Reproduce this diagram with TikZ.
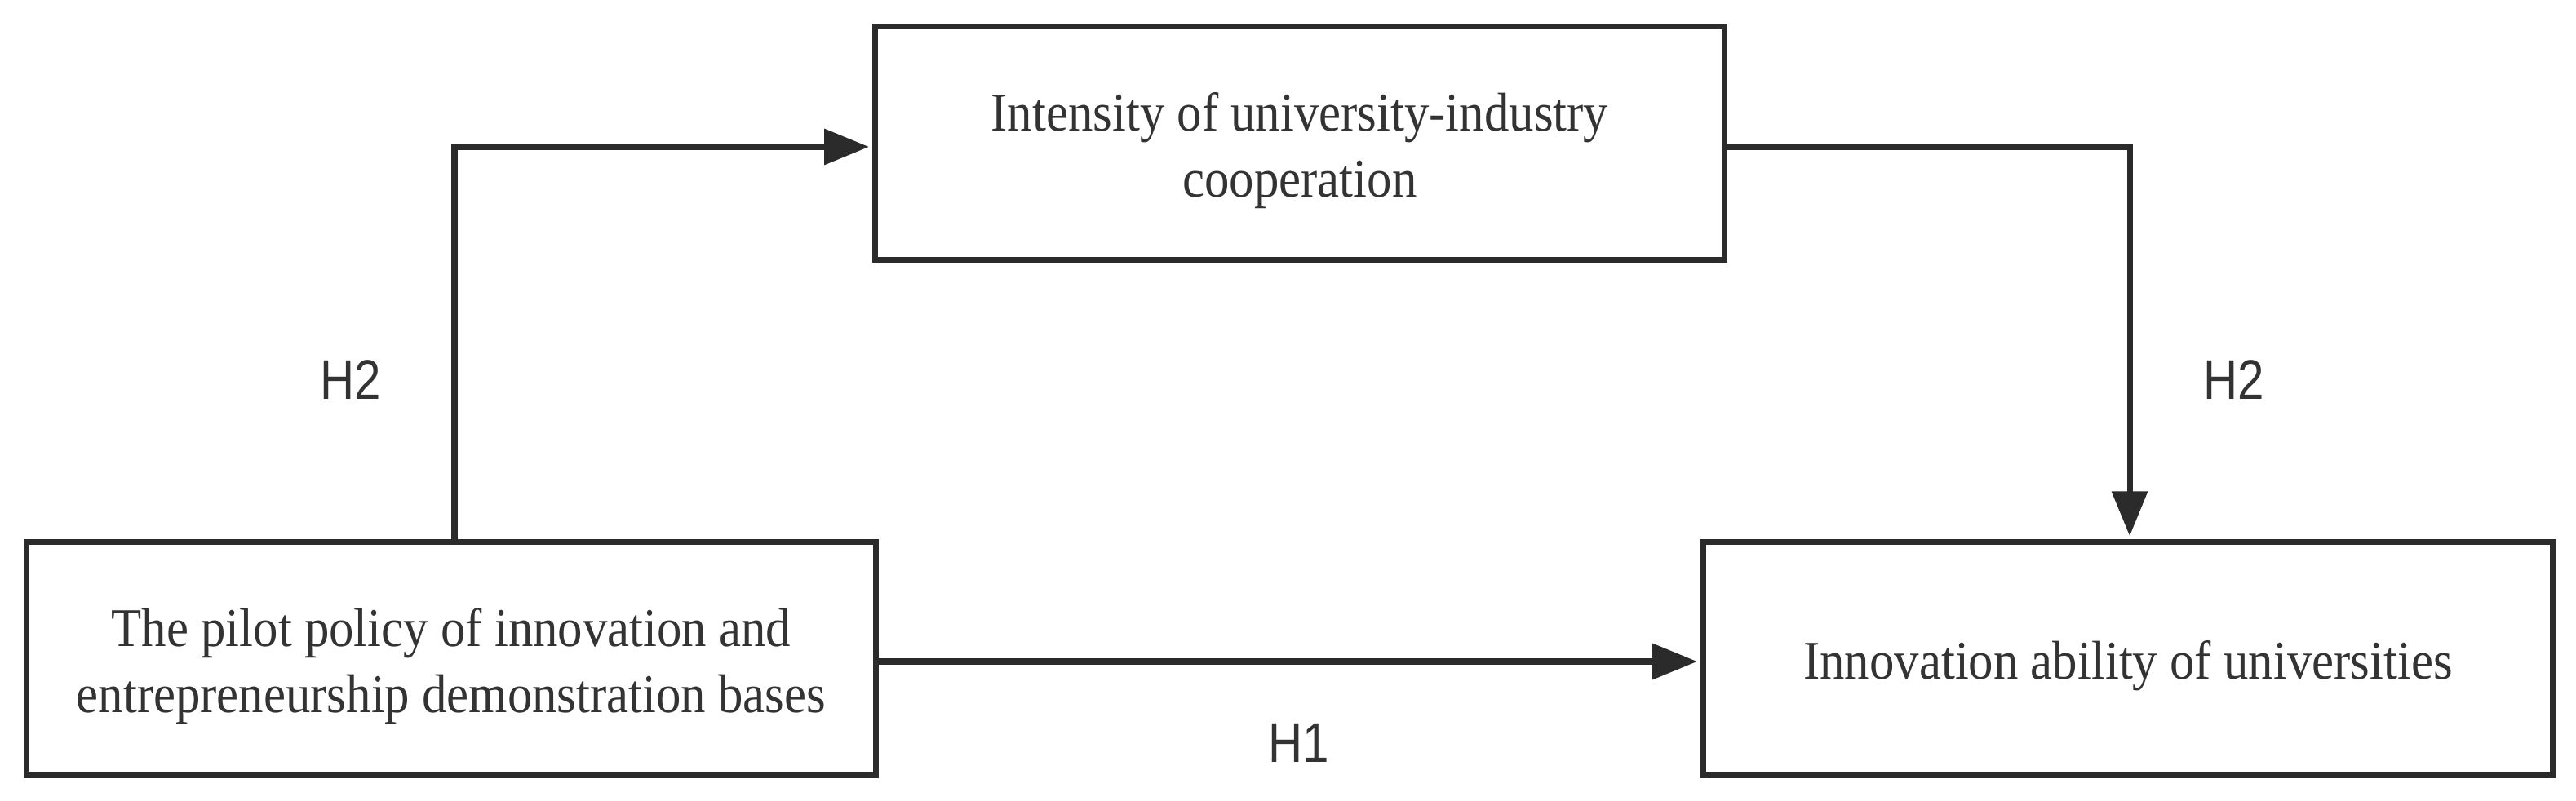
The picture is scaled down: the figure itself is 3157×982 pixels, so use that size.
\documentclass[tikz,border=0pt]{standalone}
\usepackage{fontspec}
\setmainfont{Liberation Serif}[FakeStretch=0.91]
\newfontfamily\hfont{Liberation Sans}[FakeStretch=0.85]
\usetikzlibrary{arrows.meta}
\definecolor{ln}{HTML}{2B2B2B}
\definecolor{tx}{HTML}{333333}
\tikzset{
  varbox/.style={draw=ln, line width=2pt, rectangle, inner sep=0pt,
    minimum width=10.4cm, minimum height=2.85cm},
  boxtext/.style={align=center, text=tx, inner sep=0pt, yshift=-0.09cm,
    font=\fontsize{19}{22.8}\selectfont},
  conn/.style={draw=ln, line width=2pt, shorten >=1.2pt,
    -{Triangle[length=15.6pt,width=12.2pt]}},
  hlabel/.style={text=tx, inner sep=0pt, font=\hfont\fontsize{19.5}{22}\selectfont}
}
\begin{document}
\begin{tikzpicture}[x=0.01cm,y=-0.01cm]
\useasboundingbox[fill=white] (0,0) rectangle (3157,982);
\node[varbox, label={[boxtext]center:The pilot policy of innovation and\\entrepreneurship demonstration bases}] (L) at (553,807.5) {};
\node[varbox, label={[boxtext]center:Intensity of university-industry\\cooperation}] (T) at (1593,175.5) {};
\node[varbox, label={[boxtext]center:Innovation ability of universities}] (R) at (2608,807.5) {};
\coordinate (a1) at (557,180);
\coordinate (a2) at (2610,180);
\coordinate (a3) at (0,811);
\draw[conn] (L.north -| a1) |- (T.west |- a1);
\draw[conn] (T.east |- a2) -| (R.north -| a2);
\draw[conn] (L.east |- a3) -- (R.west |- a3);
\node[hlabel] (h2a) at (430,466) {H2};
\node[hlabel] (h2b) at (2738,466) {H2};
\node[hlabel] (h1) at (1592,911) {H1};
\end{tikzpicture}
\end{document}
